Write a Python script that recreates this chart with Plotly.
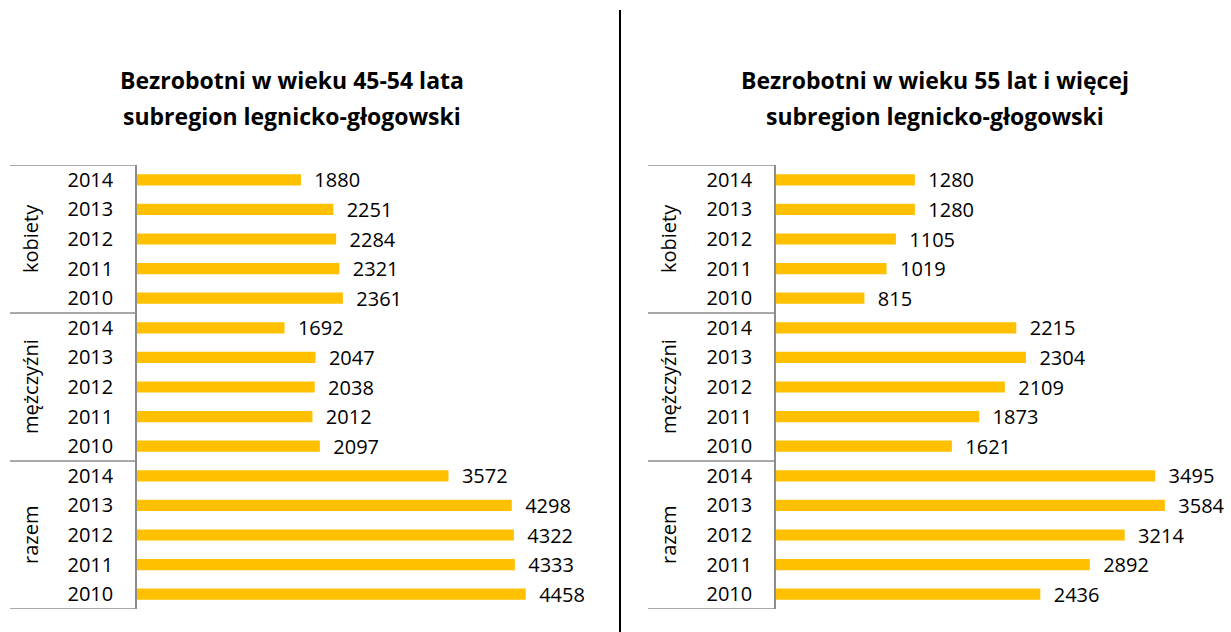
import plotly.graph_objects as go

groups = ["kobiety", "mężczyźni", "razem"]
years = ["2014", "2013", "2012", "2011", "2010"]

left_kobiety = [1880, 2251, 2284, 2321, 2361]
left_mezczyzni = [1692, 2047, 2038, 2012, 2097]
left_razem = [3572, 4298, 4322, 4333, 4458]

right_kobiety = [1280, 1280, 1105, 1019, 815]
right_mezczyzni = [2215, 2304, 2109, 1873, 1621]
right_razem = [3495, 3584, 3214, 2892, 2436]

title_left = ["Bezrobotni w wieku 45-54 lata", "subregion legnicko-głogowski"]
title_right = ["Bezrobotni w wieku 55 lat i więcej", "subregion legnicko-głogowski"]

BAR = "#FFC000"
FONT = "Open Sans"
W, H = 1231, 632

left_vals = left_kobiety + left_mezczyzni + left_razem
right_vals = right_kobiety + right_mezczyzni + right_razem
ticktext = years * len(groups)
pos = list(range(len(ticktext)))

fig = go.Figure()
for vals, xa, ya in [(left_vals, "x", "y"), (right_vals, "x2", "y2")]:
    fig.add_trace(go.Bar(
        x=vals, y=pos, orientation="h", xaxis=xa, yaxis=ya,
        marker=dict(color=BAR, line=dict(width=0)),
        text=vals, texttemplate="\u00a0\u00a0%{x}", textposition="outside",
        constraintext="none",
        textfont=dict(family=FONT, size=20, color="#000000"),
        cliponaxis=False, showlegend=False, hoverinfo="skip",
    ))

ydom = [1 - 609 / H, 1 - 165 / H]
ycommon = dict(
    domain=ydom, range=[14.5, -0.5], tickmode="array", tickvals=pos, ticktext=ticktext,
    showline=True, linecolor="#8c8c8c", linewidth=1.5, ticks="outside", ticklen=18,
    tickcolor="rgba(0,0,0,0)", tickfont=dict(family=FONT, size=20, color="#000000"),
    showgrid=False, zeroline=False, fixedrange=True,
)
xcommon = dict(showticklabels=False, showgrid=False, zeroline=False, showline=False, ticks="")

fig.update_layout(
    width=W, height=H, margin=dict(l=0, r=0, t=0, b=0),
    paper_bgcolor="white", plot_bgcolor="white", bargap=0.62,
    uniformtext=dict(mode=False),
    xaxis=dict(domain=[137 / W, 573 / W], range=[0, 5000], anchor="y", **xcommon),
    yaxis=dict(anchor="x", **ycommon),
    xaxis2=dict(domain=[776 / W, 1210 / W], range=[0, 4000], anchor="y2", **xcommon),
    yaxis2=dict(anchor="x2", **ycommon),
    font=dict(family=FONT),
)

shapes = []
annotations = []
for yref, x0, x1, cx in [("y", 10, 136, 30), ("y2", 648, 775, 668)]:
    for b in [-0.5, 4.5, 9.5, 14.5]:
        shapes.append(dict(type="line", xref="paper", yref=yref, x0=x0 / W, x1=x1 / W, y0=b, y1=b,
                           line=dict(color="#8c8c8c", width=1.5)))
    for gi, g in enumerate(groups):
        annotations.append(dict(text=g, xref="paper", yref=yref, x=cx / W, y=gi * 5 + 2,
                                textangle=-90, showarrow=False, xanchor="center", yanchor="middle",
                                font=dict(family=FONT, size=20, color="#000000")))

shapes.append(dict(type="line", xref="paper", yref="paper", x0=620 / W, x1=620 / W,
                   y0=0, y1=1 - 10 / H, line=dict(color="#000000", width=2)))

for lines, cx in [(title_left, 292), (title_right, 935)]:
    for li, (t, cy) in enumerate(zip(lines, [80, 116])):
        annotations.append(dict(text="<b>" + t + "</b>", xref="paper", yref="paper",
                                x=cx / W, y=1 - cy / H, showarrow=False,
                                xanchor="center", yanchor="middle",
                                font=dict(family=FONT, size=23, color="#000000")))

fig.update_layout(shapes=shapes, annotations=annotations)
fig.write_html("out.html", config={"displayModeBar": False},
               post_script="document.body.style.margin='0';document.body.style.padding='0';")
